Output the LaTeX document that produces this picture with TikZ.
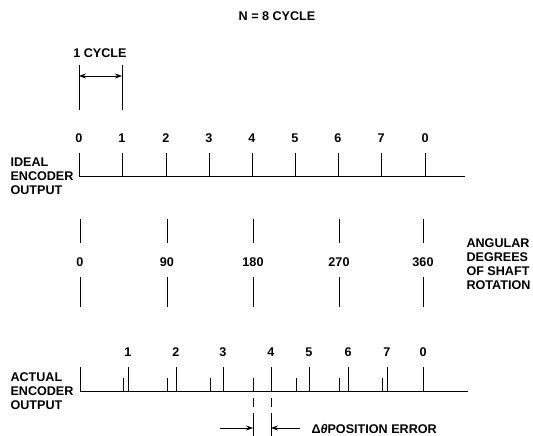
\documentclass[tikz,border=0pt]{standalone}
\usepackage{fontspec}
\setmainfont{Liberation Sans}
\usetikzlibrary{arrows.meta}
\begin{document}
\begin{tikzpicture}[x=1pt,y=-1pt,line width=1pt,
  lbl/.style={font=\bfseries\fontsize{12.6}{14}\selectfont,inner sep=0pt,anchor=base},
  side/.style={font=\bfseries\fontsize{12.6}{14}\selectfont,inner sep=0pt,align=left,anchor=north west},
  thin/.style={line width=0.8pt},
  tip/.style={-{Stealth[length=7pt,width=5pt]}},
  dim/.style={{Stealth[length=7pt,width=5pt]}-{Stealth[length=7pt,width=5pt]}}]
\useasboundingbox (0,0) rectangle (533,436);
% title
\node[lbl] (title) at (277,21) {N = 8 CYCLE};
% 1 cycle dimension
\node[lbl] (cyc) at (100,58) {1 CYCLE};
\coordinate (c0t) at (79,65); \coordinate (c0b) at (79,110);
\coordinate (c1t) at (122,65); \coordinate (c1b) at (122,110);
\draw (c0t) -- (c0b); \draw (c1t) -- (c1b);
\draw[dim,thin] (79,76) -- (122,76);
% ideal encoder output
\node[side] (ideal) at (10,157) {IDEAL\\ENCODER\\OUTPUT};
\coordinate (ib0) at (79,176); \coordinate (ib1) at (465,176);
\draw (ib0) -- (ib1);
\foreach \x/\l [count=\i] in {79/0,122/1,166/2,209/3,252/4,295/5,338/6,381/7,425/0}{
  \node[lbl] (in\i) at (\x,142) {\l};
  \draw (\x,153) -- (\x,176);
}
% angular degrees
\foreach \x/\l [count=\i] in {80/0,167/90,253/180,339/270,423/360}{
  \node[lbl] (ad\i) at (\x,266) {\l};
  \draw[thin] (\x,219) -- (\x,243);
  \draw[thin] (\x,277) -- (\x,307);
}
\node[side] (ang) at (466,238) {ANGULAR\\DEGREES\\OF SHAFT\\ROTATION};
% actual encoder output
\node[side] (actual) at (10,372) {ACTUAL\\ENCODER\\OUTPUT};
\coordinate (ab0) at (80,391); \coordinate (ab1) at (468,391);
\draw (ab0) -- (ab1);
\draw (80,367) -- (80,391);
\foreach \x/\l [count=\i] in {128/1,176/2,223/3,271/4,309/5,348/6,387/7,423/0}{
  \node[lbl] (an\i) at (\x,356) {\l};
  \draw (\x,367) -- (\x,391);
}
\foreach \x in {123,167,210,253,296,339,382}{
  \draw[thin] (\x,378) -- (\x,391);
}
% position error
\draw[thin] (253,398) -- (253,407) (253,413) -- (253,436);
\draw[thin] (271,398) -- (271,407) (271,413) -- (271,436);
\draw[tip,thin] (220,428) -- (253,428);
\draw[tip,thin] (300,428) -- (271,428);
\node[lbl,anchor=base west] (perr) at (311,433) {Δ\textit{θ}POSITION ERROR};
\end{tikzpicture}
\end{document}
